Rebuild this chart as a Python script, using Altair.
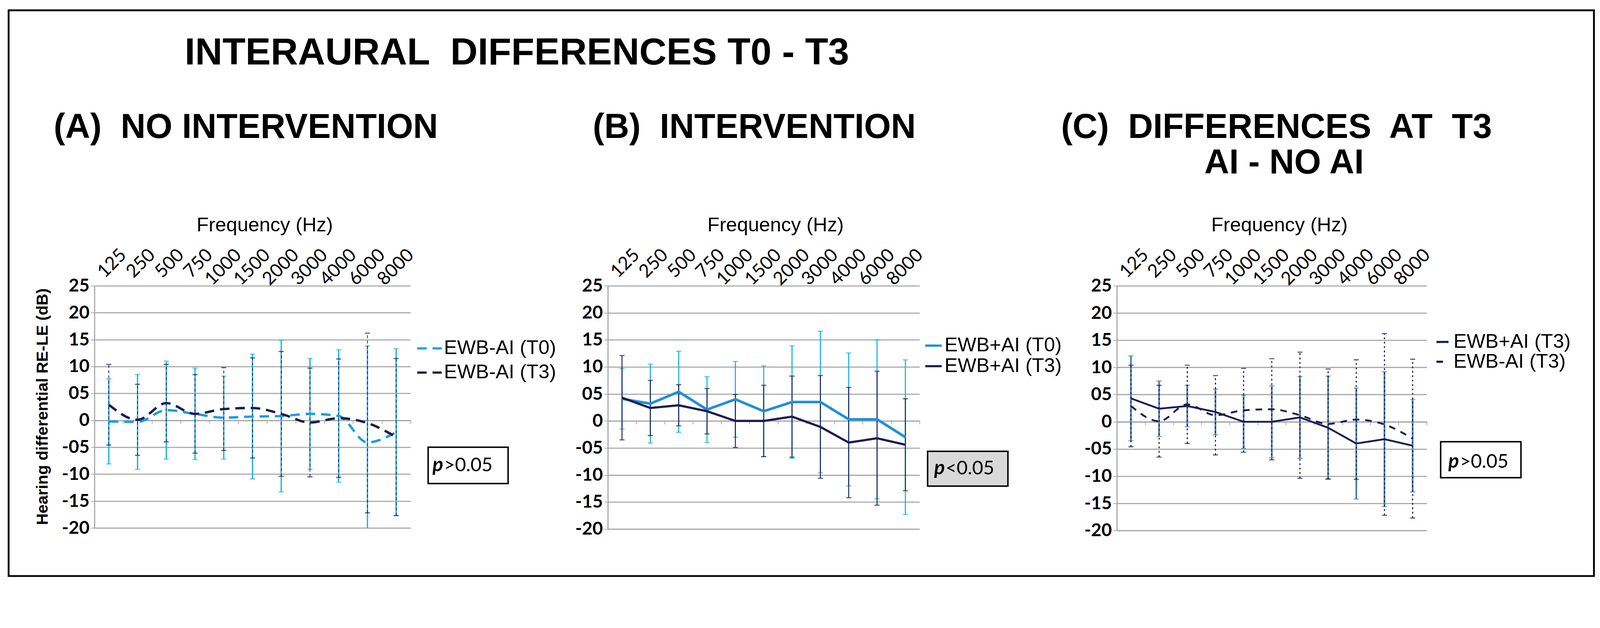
import altair as alt
import pandas as pd

# ---------------- data ----------------
freqs = ["125", "250", "500", "750", "1000", "1500", "2000", "3000", "4000", "6000", "8000"]
y_ticks = [-20, -15, -10, -5, 0, 5, 10, 15, 20, 25]

# EWB-AI (no intervention) at T0 and T3: mean and SD of RE-LE difference (dB)
ewb_noai_t0_mean = [-0.2, -0.3, 1.9, 1.2, 0.5, 0.7, 0.8, 1.2, 0.8, -4.1, -2.2]
ewb_noai_t0_sd = [7.9, 8.8, 9.1, 8.5, 7.7, 11.6, 14.1, 10.3, 12.3, 17.9, 15.5]
ewb_noai_t3_mean = [2.9, 0.1, 3.2, 1.2, 2.1, 2.3, 1.2, -0.4, 0.4, -0.5, -3.1]
ewb_noai_t3_sd = [7.5, 6.6, 7.2, 7.3, 7.7, 9.3, 11.6, 10.1, 11.0, 16.7, 14.6]

# EWB+AI (intervention) at T0 and T3
ewb_ai_t0_mean = [4.1, 3.2, 5.4, 2.1, 4.0, 1.8, 3.5, 3.5, 0.3, 0.3, -3.0]
ewb_ai_t0_sd = [5.6, 7.3, 7.5, 6.1, 7.0, 8.4, 10.4, 13.1, 12.3, 14.7, 14.3]
ewb_ai_t3_mean = [4.3, 2.4, 2.9, 1.8, 0.0, 0.0, 0.8, -1.1, -4.0, -3.2, -4.4]
ewb_ai_t3_sd = [7.8, 5.1, 3.8, 4.2, 4.9, 6.6, 7.5, 9.5, 10.2, 12.4, 8.5]

NB = "\u00a0"
main_title = "INTERAURAL " + NB + "DIFFERENCES T0 - T3"
panel_titles = ["(A)" + NB + " NO INTERVENTION", "(B)" + NB + " INTERVENTION",
                "(C)" + NB + " DIFFERENCES" + NB + " AT" + NB + " T3"]
panel_c_sub = "AI - NO AI"
p_texts = [">0.05", "<0.05", ">0.05"]
x_title = "Frequency (Hz)"
y_title = "Hearing differential  RE-LE (dB)"

# ---------------- styling ----------------
GRAY = "#a6a6a6"
LIGHT = "#1ab0e8"
MID = "#1e90d8"
NAVY = "#1b1c52"
STEEL = "#4a7bb0"
TITLE_FONT = "Liberation Sans"
NUM_FONT = "Lato"

y_scale = alt.Scale(domain=[-20, 25], nice=False, zero=False)
label_expr = ("datum.value == 5 ? '05' : (datum.value == -5 ? '-05' : "
              "(datum.value < 0 ? '-' + abs(datum.value) : '' + datum.value))")


def text_layer(txt, x, y, size, weight="bold", align="left", font=TITLE_FONT, style="normal"):
    return alt.Chart(pd.DataFrame({"t": [txt]})).mark_text(
        font=font, fontSize=size, fontWeight=weight, fontStyle=style, align=align,
        baseline="alphabetic", color="black"
    ).encode(text="t:N", x=alt.value(x), y=alt.value(y))


def panel(series, W, H, leg, title_x, show_ytitle, pbox, extra):
    names = [s["name"] for s in series]
    frames = [pd.DataFrame({"freq": freqs, "series": s["name"], "mean": s["mean"], "sd": s["sd"]})
              for s in series]
    df = pd.concat(frames, ignore_index=True)
    base = alt.Chart(df).transform_calculate(lo="datum.mean - datum.sd", hi="datum.mean + datum.sd")
    xs = alt.Scale(type="band", domain=freqs, paddingInner=0, paddingOuter=0)

    top_axis = alt.Axis(
        orient="top", title=x_title, ticks=False, tickSize=0, domain=False, grid=False,
        labelAngle=315, labelAlign="right", labelBaseline="middle", labelPadding=92,
        labelOffset=40, labelFont=NUM_FONT, labelFontSize=50, labelColor="black",
        labelOverlap=False, labelBound=False,
        titleFont=TITLE_FONT, titleFontSize=54, titleFontWeight="normal", titleColor="black",
        titleX=title_x, titleY=-165, titleAlign="center", titleBaseline="middle", titleAngle=0)
    zero_axis = alt.Axis(
        orient="bottom", offset=-(H * 20.0 / 45.0), labels=False, title=None, ticks=True,
        tickBand="extent", tickSize=9, tickColor=GRAY, tickWidth=2, domain=True,
        domainColor=GRAY, domainWidth=3, grid=False)
    y_kw = dict(orient="left", values=y_ticks, labelExpr=label_expr, grid=True, gridColor=GRAY,
                gridWidth=3, domain=True, domainColor=GRAY, domainWidth=3, ticks=True, tickSize=10,
                tickColor=GRAY, tickWidth=2, labelFont=NUM_FONT, labelFontWeight="bold",
                labelFontSize=49, labelColor="black", labelPadding=4)
    if show_ytitle:
        y_kw.update(title=y_title, titleFont=TITLE_FONT, titleFontSize=44, titleFontWeight="bold",
                    titleColor="black", titleAngle=270, titleX=-141, titleY=329,
                    titleAlign="center", titleBaseline="middle")
    else:
        y_kw.update(title=None)
    y_axis = alt.Axis(**y_kw)

    legend = alt.Legend(orient="none", legendX=leg["x"], legendY=leg["y"], title=None,
                        symbolType="stroke", symbolSize=leg["len"] ** 2, symbolStrokeWidth=6,
                        labelFont=TITLE_FONT, labelFontSize=54, labelColor="black",
                        labelOffset=3, rowPadding=leg["row"], padding=0, labelLimit=0)
    color_enc = alt.Color("series:N", scale=alt.Scale(domain=names, range=[s["line_color"] for s in series]),
                          legend=legend)
    dash_enc = alt.StrokeDash("series:N", scale=alt.Scale(domain=names, range=[s["line_dash"] for s in series]),
                              legend=legend)

    layers = []
    first = True
    for s in series:
        sub = base.transform_filter(alt.datum.series == s["name"])
        rule_kw = dict(color=s["bar_color"], strokeWidth=s["bar_w"], clip=True)
        if s["bar_dash"]:
            rule_kw["strokeDash"] = s["bar_dash"]
        rule = sub.mark_rule(**rule_kw).encode(
            x=alt.X("freq:N", scale=xs, sort=freqs, axis=top_axis if first else None),
            y=alt.Y("lo:Q", scale=y_scale, axis=y_axis),
            y2="hi:Q")
        cap_lo = sub.mark_tick(color=s["bar_color"], thickness=3, size=14, clip=True).encode(
            x=alt.X("freq:N", scale=xs, sort=freqs, axis=None),
            y=alt.Y("lo:Q", scale=y_scale, axis=y_axis))
        cap_hi = sub.mark_tick(color=s["bar_color"], thickness=3, size=14, clip=True).encode(
            x=alt.X("freq:N", scale=xs, sort=freqs, axis=None),
            y=alt.Y("hi:Q", scale=y_scale, axis=y_axis))
        layers += [rule, cap_lo, cap_hi]
        first = False
    first = True
    for s in series:
        sub = base.transform_filter(alt.datum.series == s["name"])
        line = sub.mark_line(strokeWidth=s["line_w"], interpolate=s["interp"]).encode(
            x=alt.X("freq:N", scale=xs, sort=freqs, axis=zero_axis if first else None),
            y=alt.Y("mean:Q", scale=y_scale, axis=y_axis),
            color=color_enc, strokeDash=dash_enc)
        layers.append(line)
        first = False

    # p-value box
    box = alt.Chart(pd.DataFrame({"k": [0]})).mark_rect(
        fill=pbox["fill"], stroke="black", strokeWidth=4
    ).encode(x=alt.value(pbox["x"]), x2=alt.value(pbox["x2"]), y=alt.value(pbox["y"]), y2=alt.value(pbox["y2"]))
    layers.append(box)
    layers.append(text_layer("p", pbox["tx"], pbox["ty"], 54, weight="bold", font=NUM_FONT, style="italic"))
    layers.append(text_layer(pbox["txt"], pbox["tx"] + 31, pbox["ty"], 52, weight="normal", font=NUM_FONT))
    layers += extra
    return alt.layer(*layers).properties(width=W, height=H)


# ---------------- panels ----------------
series_a = [
    dict(name="EWB-AI (T0)", mean=ewb_noai_t0_mean, sd=ewb_noai_t0_sd, bar_color=LIGHT, bar_w=3.5,
         bar_dash=None, line_color="#1a9fe0", line_dash=[26, 16], line_w=6.5, interp="monotone"),
    dict(name="EWB-AI (T3)", mean=ewb_noai_t3_mean, sd=ewb_noai_t3_sd, bar_color=NAVY, bar_w=2,
         bar_dash=[8, 6], line_color=NAVY, line_dash=[26, 16], line_w=6.5, interp="monotone"),
]
series_b = [
    dict(name="EWB+AI (T0)", mean=ewb_ai_t0_mean, sd=ewb_ai_t0_sd, bar_color=LIGHT, bar_w=3,
         bar_dash=None, line_color=MID, line_dash=[1, 0], line_w=7, interp="linear"),
    dict(name="EWB+AI (T3)", mean=ewb_ai_t3_mean, sd=ewb_ai_t3_sd, bar_color=NAVY, bar_w=2.5,
         bar_dash=None, line_color=NAVY, line_dash=[1, 0], line_w=6, interp="linear"),
]
series_c = [
    dict(name="EWB+AI (T3)", mean=ewb_ai_t3_mean, sd=ewb_ai_t3_sd, bar_color=STEEL, bar_w=4.5,
         bar_dash=None, line_color=NAVY, line_dash=[1, 0], line_w=5, interp="linear"),
    dict(name="EWB-AI (T3)", mean=ewb_noai_t3_mean, sd=ewb_noai_t3_sd, bar_color=NAVY, bar_w=3,
         bar_dash=[5, 7], line_color=NAVY, line_dash=[18, 16], line_w=5, interp="monotone"),
]

border = alt.Chart(pd.DataFrame({"k": [0]})).mark_rect(
    fillOpacity=0, stroke="black", strokeWidth=5
).encode(x=alt.value(-234), x2=alt.value(4089), y=alt.value(-751), y2=alt.value(791))

extra_a = [border,
           text_layer(main_title, 1152, -603, 103, align="center"),
           text_layer(panel_titles[0], -111, -403, 94)]
extra_b = [text_layer(panel_titles[1], -41, -403, 94)]
extra_c = [text_layer(panel_titles[2], -152, -403, 94),
           text_layer(panel_c_sub, 456, -306, 94, align="center")]

pA = panel(series_a, 862, 660, dict(x=877, y=134, len=67, row=2), 464, True,
           dict(x=910, x2=1128, y=440, y2=539, tx=922, ty=506, txt=p_texts[0], fill="white"), extra_a)
pB = panel(series_b, 850, 663, dict(x=861, y=136, len=45, row=2), 457, False,
           dict(x=872, x2=1091, y=451, y2=546, tx=890, ty=514, txt=p_texts[1], fill="#d9d9d9"), extra_b)
pC = panel(series_c, 845, 667, dict(x=861, y=126, len=33, row=0), 443, False,
           dict(x=883, x2=1102, y=425, y2=523, tx=904, ty=496, txt=p_texts[2], fill="white"), extra_c)

chart = alt.hconcat(pA, pB, pC, spacing=538, bounds="flush").resolve_scale(
    color="independent", strokeDash="independent"
).resolve_legend(
    color="independent", strokeDash="independent"
).properties(
    padding={"left": 12, "top": -33, "right": 5, "bottom": 5},
    background="white",
).configure_view(stroke=None)

chart.save("out.html", embed_options={"renderer": "svg", "actions": False})
